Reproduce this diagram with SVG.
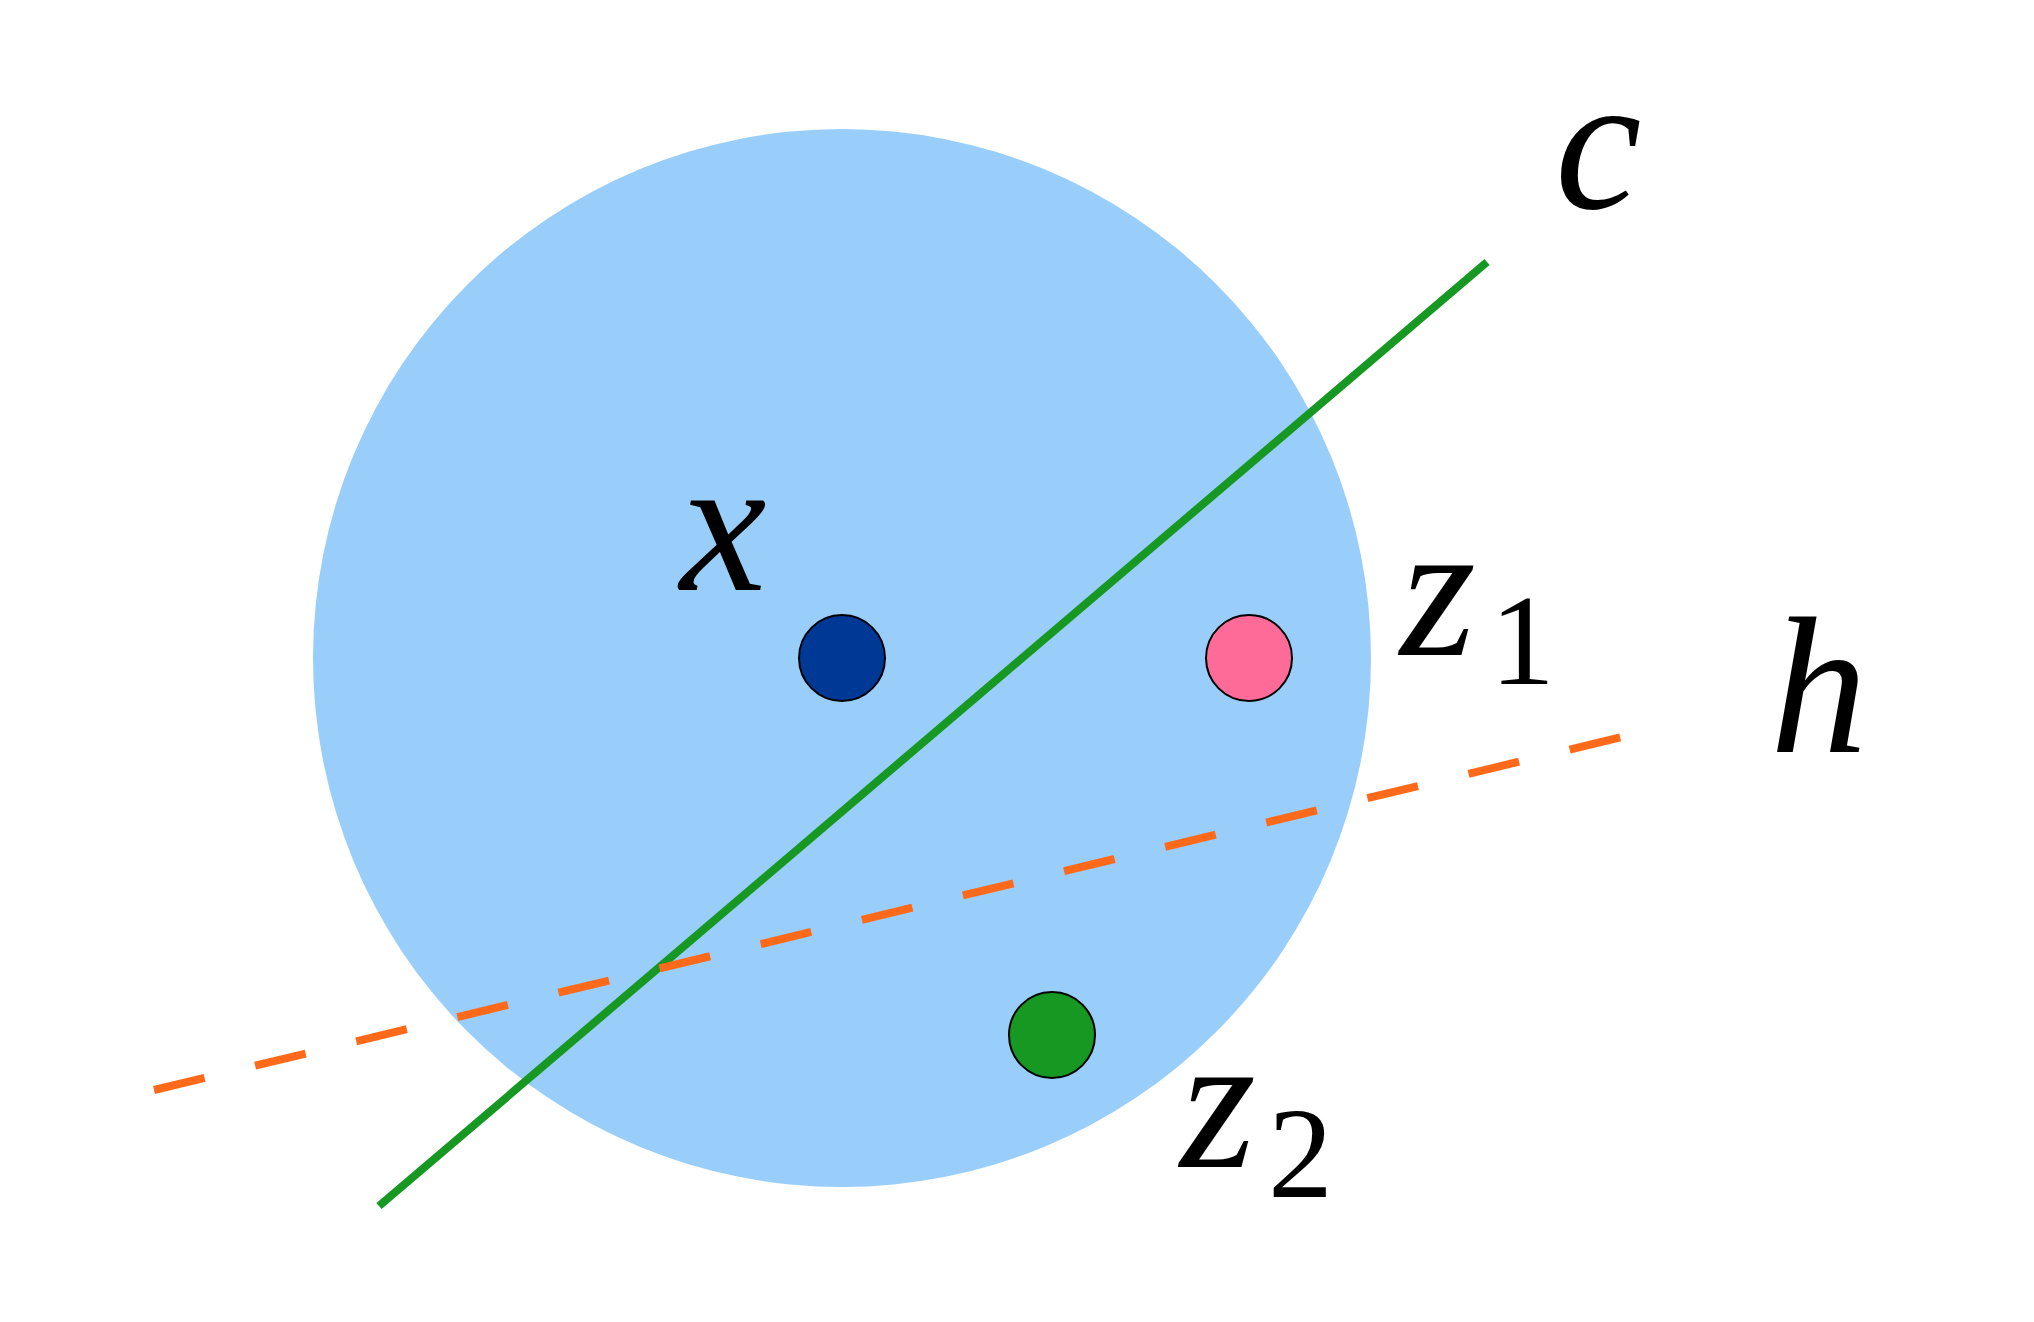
<svg xmlns="http://www.w3.org/2000/svg" width="2034" height="1322" viewBox="0 0 2034 1322">
<style>
.lbl{font-family:"Liberation Serif",serif;font-style:italic;font-size:195px;fill:#000}
.sub{font-family:"Liberation Serif",serif;font-size:130px;fill:#000}
.pt{stroke:#000;stroke-width:2}
</style>
<rect width="2034" height="1322" fill="#fff"/>
<g id="ball"><circle cx="842" cy="658" r="529" fill="#99cefb"/></g>
<g id="connectors">
<line id="c-line" x1="379" y1="1206" x2="1487" y2="262" stroke="#179822" stroke-width="8"/>
<line id="h-line" x1="154" y1="1090" x2="1651" y2="730" stroke="#ff6a1a" stroke-width="8" stroke-dasharray="52 52"/>
</g>
<g id="node-x"><circle class="pt" cx="842" cy="658" r="43" fill="#003896"/><text class="lbl" x="680" y="590">x</text></g>
<g id="node-z1"><circle class="pt" cx="1249" cy="658" r="43" fill="#ff6b98"/><text class="lbl" x="1400" y="655">z</text><text class="sub" x="1490" y="684">1</text></g>
<g id="node-z2"><circle class="pt" cx="1052" cy="1035" r="43" fill="#179822"/><text class="lbl" x="1180" y="1167">z</text><text class="sub" x="1268" y="1197">2</text></g>
<g id="label-c"><text class="lbl" x="1555" y="208">c</text></g>
<g id="label-h"><text class="lbl" x="1770" y="752">h</text></g>
</svg>
